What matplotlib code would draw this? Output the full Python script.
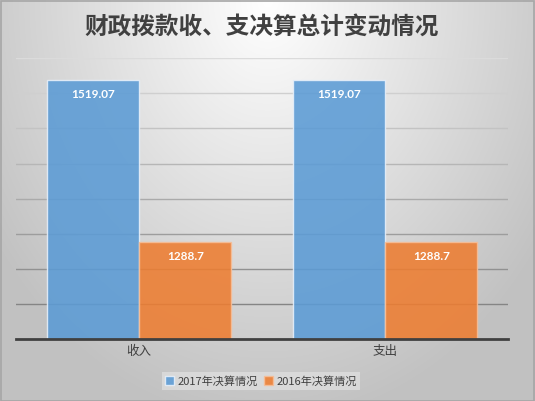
import numpy as np
import matplotlib
matplotlib.use("Agg")
import matplotlib.pyplot as plt
from matplotlib.patches import Rectangle

plt.rcParams['font.family'] = ['Noto Sans CJK SC', 'DejaVu Sans']

title = "财政拨款收、支决算总计变动情况"
categories = ["收入", "支出"]
series_names = ["2017年决算情况", "2016年决算情况"]
values_2017 = [1519.07, 1519.07]
values_2016 = [1288.7, 1288.7]
labels_2017 = ["1519.07", "1519.07"]
labels_2016 = ["1288.7", "1288.7"]
y_min, y_max, y_step = 1150, 1550, 50

W, H, DPI = 535, 401, 100
fig = plt.figure(figsize=(W / DPI, H / DPI), dpi=DPI)

# background radial gradient
bg = fig.add_axes([0, 0, 1, 1], zorder=-10)
yy, xx = np.mgrid[0:H, 0:W]
r = np.sqrt(((xx - W / 2) / (W * 0.62)) ** 2 + (yy / (H * 1.05)) ** 2)
r = np.clip(r, 0, 1)
lo, hi = 1.0, 0.76
g = hi + (lo - hi) * (1 - r)
img = np.dstack([g, g, g])
bg.imshow(img, aspect='auto', extent=[0, 1, 0, 1], origin='upper')
bg.add_patch(Rectangle((0.001, 0.001), 0.997, 0.996, fill=False,
                       edgecolor='#a6a6a6', linewidth=1.2, transform=bg.transAxes))
bg.set_xlim(0, 1)
bg.set_ylim(0, 1)
bg.axis('off')

left, right = 16 / W, 508 / W
bottom, top = (H - 339) / H, (H - 58.3) / H
ax = fig.add_axes([left, bottom, right - left, top - bottom])
ax.patch.set_alpha(0)

x = np.arange(len(categories))
bw = 0.376

# gridlines with darkening color
ticks = np.arange(y_min + y_step, y_max + 1, y_step)
n = len(ticks)
for i, t in enumerate(ticks):
    frac = i / (n - 1)  # 0 bottom -> 1 top
    c = 0.52 + (0.86 - 0.52) * frac
    ax.axhline(t, color=(c, c, c), linewidth=1.0, zorder=1)

b1 = ax.bar(x - bw / 2, values_2017, bw, color='#5B9BD5', alpha=0.88,
            edgecolor='#E8F0FA', linewidth=1.0, zorder=2, label=series_names[0])
b2 = ax.bar(x + bw / 2, values_2016, bw, color='#ED7D31', alpha=0.88,
            edgecolor='#F6BE98', linewidth=1.0, zorder=2, label=series_names[1])

for rects, vals, labs in ((b1, values_2017, labels_2017), (b2, values_2016, labels_2016)):
    for rect, v, lab in zip(rects, vals, labs):
        ax.annotate(lab, (rect.get_x() + rect.get_width() / 2, v),
                    xytext=(0, -10.5), textcoords='offset points', ha='center', va='center',
                    color='white', fontsize=8.5, fontweight='bold', family=['Lato', 'DejaVu Sans'],
                    zorder=5)

ax.set_xlim(-0.5, 1.5)
ax.set_ylim(y_min, y_max)
for s in ['top', 'right', 'left']:
    ax.spines[s].set_visible(False)
ax.spines['bottom'].set_color('#404040')
ax.spines['bottom'].set_linewidth(2.0)
ax.spines['bottom'].set_zorder(4)
ax.set_yticks([])
ax.set_xticks(x)
ax.set_xticklabels(categories, fontsize=9, color='#404040')
ax.tick_params(axis='x', length=0, pad=4)

fig.text(262 / W, (H - 27) / H, title, ha='center', va='center', fontsize=17,
         color='#404040', fontweight='bold')

leg = fig.legend(handles=[b1, b2], labels=series_names, loc='center',
                 bbox_to_anchor=(261 / W, (H - 381) / H), ncol=2, fontsize=8,
                 frameon=True, handlelength=0.8, handleheight=0.8, handletextpad=0.3,
                 columnspacing=0.6, borderpad=0.3)
leg.get_frame().set_facecolor('#e6e6e6')
leg.get_frame().set_alpha(0.6)
leg.get_frame().set_edgecolor('none')
leg.get_frame().set_boxstyle('square', pad=0)
for t in leg.get_texts():
    t.set_color('#404040')

fig.savefig('out.png', dpi=DPI)
